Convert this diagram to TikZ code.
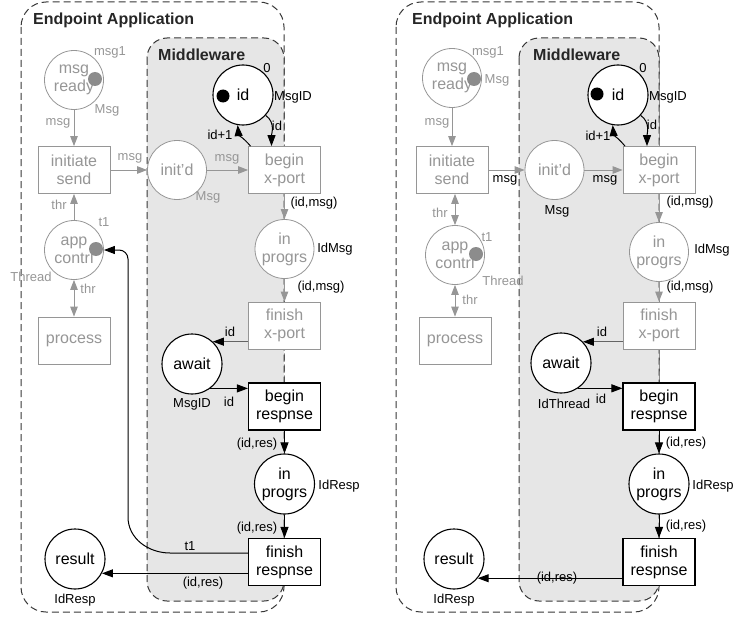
\documentclass[tikz,border=0pt]{standalone}
\usepackage{fontspec}
\setmainfont{Liberation Sans}
\usetikzlibrary{arrows.meta}
\definecolor{gr}{RGB}{150,150,150}
\definecolor{tokg}{RGB}{140,140,140}
\definecolor{mwfill}{RGB}{230,230,230}
\definecolor{framec}{RGB}{55,55,55}
\definecolor{darcc}{RGB}{100,100,100}
\begin{document}
\begin{tikzpicture}[x=1pt,y=-1pt,
  every node/.style={font=\fontsize{16}{18}\selectfont, align=center},
  place/.style={circle, draw=black, line width=1.1pt, fill=white, minimum size=60pt, inner sep=0pt},
  gplace/.style={circle, draw=gr, line width=0.8pt, fill=white, text=gr, minimum size=59pt, inner sep=0pt},
  trans/.style={rectangle, draw=black, line width=1.1pt, fill=white, minimum width=72pt, minimum height=47pt, inner sep=0pt},
  gtrans/.style={rectangle, draw=gr, line width=0.8pt, fill=white, text=gr, minimum width=72pt, minimum height=47pt, inner sep=0pt},
  tok/.style={circle, fill=tokg, minimum size=14pt, inner sep=0pt},
  btok/.style={circle, fill=black, minimum size=13pt, inner sep=0pt},
  lab/.style={font=\fontsize{13}{15}\selectfont, inner sep=0pt},
  glab/.style={font=\fontsize{13}{15}\selectfont, inner sep=0pt, text=gr},
  ttl/.style={font=\fontsize{16}{18}\selectfont\bfseries, inner sep=0pt, anchor=west, text=black!85},
  frm/.style={draw=framec, line width=1pt, dash pattern=on 7pt off 4pt},
  arc/.style={draw=black, line width=1pt, -{Triangle[length=11pt,width=8pt]}},
  darc/.style={draw=darcc, line width=1pt, -{Triangle[length=11pt,width=8pt,color=black]}},
  garc/.style={draw=gr, line width=1pt, -{Triangle[length=10pt,width=7.5pt]}},
  gdarc/.style={draw=gr, line width=1pt, {Triangle[length=10pt,width=7.5pt]}-{Triangle[length=10pt,width=7.5pt]}}
]
\useasboundingbox (0,0) rectangle (734,618);

% ================= LEFT PANEL =================
\draw[frm, rounded corners=25pt] (21,2) rectangle (284,612);
\draw[frm, fill=mwfill, rounded corners=20pt] (147,38) rectangle (284,601);
\node[ttl] (LtA) at (33,20) {Endpoint Application};
\node[ttl] (LtM) at (158,55) {Middleware};

\node[gplace] (Lmr) at (74,80) {msg\\ready};
\node[tok] (Lmrt) at (95,79) {};
\node[gtrans] (Lis) at (74,170) {initiate\\send};
\node[gplace] (Lin) at (177,170) {init'd};
\node[gtrans] (Lbx) at (284.5,170) {begin\\x-port};
\node[place] (Lid) at (243,95) {id};
\node[btok] (Lidt) at (223,96) {};
\node[gplace] (Lip) at (284.5,249) {in\\progrs};
\node[gtrans] (Lfx) at (284.5,325.5) {finish\\x-port};
\node[place] (Law) at (192,364) {await};
\node[trans] (Lbr) at (284.5,406.5) {begin\\respnse};
\node[place] (Lir) at (284.5,484) {in\\progrs};
\node[trans] (Lfr) at (284.5,562) {finish\\respnse};
\node[place] (Lres) at (75,559) {result};
\node[gplace] (Lac) at (74,250) {app\\contrl};
\node[tok] (Lact) at (96,249) {};
\node[gtrans] (Lpr) at (74,340.5) {process};

\draw[garc] (Lmr) -- (Lis);
\draw[garc] (Lis) -- (Lin);
\draw[garc] (Lin) -- (Lbx);
\draw[garc] (Lbx) -- (Lip);
\draw[garc] (Lip) -- (Lfx);
\draw[garc] (Lac) -- (Lis);
\draw[gdarc] (Lac) -- (Lpr);
\draw[arc] (Lid.-42) to[out=-35,in=90] ([xshift=-13pt]Lbx.north);
\draw[arc] ([xshift=-34pt]Lbx.north) to[out=130,in=-85] (Lid.-100);
\draw[darc] (Law.47 -| Lfx.west) -- (Law.47);
\draw[arc] (Law.-53) -- (Law.-53 -| Lbr.west);
\draw[arc] (Lbr) -- (Lir);
\draw[arc] (Lir) -- (Lfr);
\draw[arc] (Lres.-28 -| Lfr.west) -- (Lres.-28);
\draw[arc] ([yshift=9pt]Lfr.west) -- (170,553) to[out=180,in=-90] (128,517)
   -- (128,259) to[out=90,in=0] (119,250) -- (Lac.east);

\node[glab] (Ll1) at (110,52) {msg1};
\node[glab] (Ll2) at (107,110) {Msg};
\node[glab] (Ll3) at (58,123) {msg};
\node[glab] (Ll4) at (130,158) {msg};
\node[glab] (Ll5) at (208,197) {Msg};
\node[glab] (Ll6) at (227,159) {msg};
\node[lab] (Ll7) at (267,68) {0};
\node[lab] (Ll8) at (293,97) {MsgID};
\node[lab] (Ll9) at (277,126) {id};
\node[lab] (Ll10) at (220,135) {id+1};
\node[lab] (Ll11) at (314,203) {(id,msg)};
\node[lab] (Ll12) at (335,249) {IdMsg};
\node[lab] (Ll13) at (321,287) {(id,msg)};
\node[lab] (Ll14) at (230,332) {id};
\node[lab] (Ll15) at (192,404) {MsgID};
\node[lab] (Ll16) at (229,402) {id};
\node[lab] (Ll17) at (257,444) {(id,res)};
\node[lab] (Ll18) at (339,486) {IdResp};
\node[lab] (Ll19) at (257,528) {(id,res)};
\node[lab] (Ll20) at (190,546) {t1};
\node[lab] (Ll21) at (203,583) {(id,res)};
\node[lab] (Ll22) at (75,600) {IdResp};
\node[glab] (Ll23) at (104,222) {t1};
\node[glab] (Ll24) at (31,277) {Thread};
\node[glab] (Ll25) at (59,205) {thr};
\node[glab] (Ll26) at (88,289) {thr};

% ================= RIGHT PANEL =================
\draw[frm, rounded corners=25pt] (396,2) rectangle (659,612);
\draw[frm, fill=mwfill, rounded corners=20pt] (519,38) rectangle (659,601);
\node[ttl] (RtA) at (412,20) {Endpoint Application};
\node[ttl] (RtM) at (533,55) {Middleware};

\node[gplace] (Rmr) at (452,78) {msg\\ready};
\node[tok] (Rmrt) at (474,79) {};
\node[gtrans] (Ris) at (452,170) {initiate\\send};
\node[gplace] (Rin) at (554.5,170) {init'd};
\node[gtrans] (Rbx) at (659,170) {begin\\x-port};
\node[place] (Rid) at (618,95) {id};
\node[btok] (Ridt) at (597,94) {};
\node[gplace] (Rip) at (659,252) {in\\progrs};
\node[gtrans] (Rfx) at (659,325.5) {finish\\x-port};
\node[place] (Raw) at (561,363) {await};
\node[trans] (Rbr) at (659,406.5) {begin\\respnse};
\node[place] (Rir) at (659,484) {in\\progrs};
\node[trans] (Rfr) at (659,562) {finish\\respnse};
\node[place] (Rres) at (454,559) {result};
\node[gplace] (Rac) at (455,255) {app\\contrl};
\node[tok] (Ract) at (476,254) {};
\node[gtrans] (Rpr) at (455,340.5) {process};

\draw[garc] (Rmr) -- (Ris);
\draw[garc] (Ris) -- (Rin);
\draw[garc] (Rin) -- (Rbx);
\draw[garc] (Rbx) -- (Rip);
\draw[garc] (Rip) -- (Rfx);
\draw[gdarc] (Rac.north |- Ris.south) -- (Rac.north);
\draw[gdarc] (Rac) -- (Rpr);
\draw[arc] (Rid.-42) to[out=-35,in=90] ([xshift=-12pt]Rbx.north);
\draw[arc] ([xshift=-34pt]Rbx.north) to[out=130,in=-85] (Rid.-100);
\draw[darc] (Raw.44 -| Rfx.west) -- (Raw.44);
\draw[arc] (Raw.-56) -- (Raw.-56 -| Rbr.west);
\draw[arc] (Rbr) -- (Rir);
\draw[arc] (Rir) -- (Rfr);
\draw[arc] (Rres.-39 -| Rfr.west) -- (Rres.-39);

\node[glab] (Rl1) at (488,52) {msg1};
\node[glab] (Rl2) at (497,80) {Msg};
\node[glab] (Rl3) at (437,123) {msg};
\node[lab] (Rl4) at (505,180) {msg};
\node[lab] (Rl5) at (557,211) {Msg};
\node[lab] (Rl6) at (605,180) {msg};
\node[lab] (Rl7) at (643,68) {0};
\node[lab] (Rl8) at (668,97) {MsgID};
\node[lab] (Rl9) at (652,125) {id};
\node[lab] (Rl10) at (598,136) {id+1};
\node[lab] (Rl11) at (690,202) {(id,msg)};
\node[lab] (Rl12) at (712,250) {IdMsg};
\node[lab] (Rl13) at (690,287) {(id,msg)};
\node[lab] (Rl14) at (602,332) {id};
\node[lab] (Rl15) at (564,404) {IdThread};
\node[lab] (Rl16) at (601,399) {id};
\node[lab] (Rl17) at (686,443) {(id,res)};
\node[lab] (Rl18) at (713,486) {IdResp};
\node[lab] (Rl19) at (686,526) {(id,res)};
\node[lab] (Rl20) at (557,578) {(id,res)};
\node[lab] (Rl21) at (454,600) {IdResp};
\node[glab] (Rl22) at (487,237) {t1};
\node[glab] (Rl23) at (503,281) {Thread};
\node[glab] (Rl24) at (440,213) {thr};
\node[glab] (Rl25) at (470,300) {thr};
\end{tikzpicture}
\end{document}
